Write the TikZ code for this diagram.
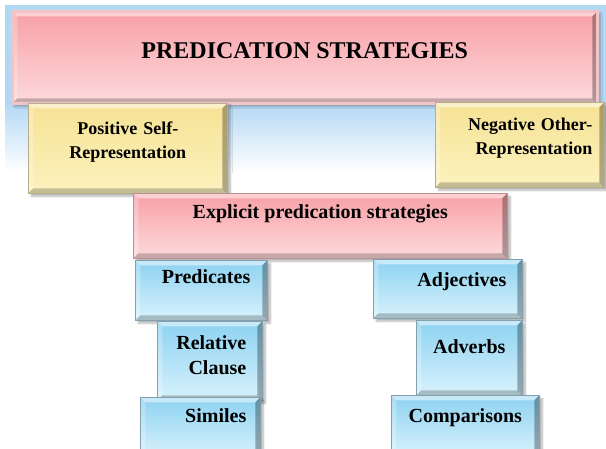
\documentclass[tikz,border=0pt]{standalone}
\usepackage{fontspec}
\setmainfont{Liberation Serif}
\usetikzlibrary{shadows.blur}
\definecolor{sky}{HTML}{B3D8F4}
\definecolor{pkT}{HTML}{F7A0A6}
\definecolor{pkB}{HTML}{FDDADD}
\definecolor{pkrim}{HTML}{F3C3C8}
\definecolor{ylT}{HTML}{F6E294}
\definecolor{ylB}{HTML}{FCF2BE}
\definecolor{blT}{HTML}{8DD2F1}
\definecolor{blB}{HTML}{D8F2FC}
\newlength\bw \setlength\bw{5pt}
\newcommand{\fsz}[2]{\fontsize{#1}{#2}\selectfont\bfseries}
\tikzset{pane/.style={inner sep=0pt,anchor=north west,align=center,line width=.6pt,
  blur shadow={shadow xshift=3pt,shadow yshift=-3pt,shadow blur steps=8,shadow opacity=30},
  path picture={
   \path (path picture bounding box.north west) coordinate (p1) (path picture bounding box.north east) coordinate (p2)
    (path picture bounding box.south east) coordinate (p3) (path picture bounding box.south west) coordinate (p4);
   % bevelled rim: light top/left, dark right/bottom
   \fill[white,opacity=.5] (p1)--(p2)--([shift={(-\bw,-\bw)}]p2)--([shift={(\bw,-\bw)}]p1)--cycle;
   \fill[white,opacity=.25] (p1)--(p4)--([shift={(\bw,\bw)}]p4)--([shift={(\bw,-\bw)}]p1)--cycle;
   \fill[black,opacity=.3] (p2)--(p3)--([shift={(-\bw,\bw)}]p3)--([shift={(-\bw,-\bw)}]p2)--cycle;
   \fill[black,opacity=.22] (p4)--(p3)--([shift={(-\bw,\bw)}]p3)--([shift={(\bw,\bw)}]p4)--cycle;}},
 pk/.style={pane,top color=pkT,bottom color=pkB,draw=pkT!50!gray},
 yl/.style={pane,top color=ylT,bottom color=ylB,draw=ylT!45!gray,font=\fsz{18}{24}},
 bl/.style={pane,top color=blT,bottom color=blB,draw=blT!40!gray,font=\fsz{20}{25}}}

\begin{document}
\begin{tikzpicture}[x=1pt,y=-1pt]
\clip (0,0) rectangle (606,448);
% sky band behind the heading, fading out below it
\fill[sky] (5,5) rectangle (606,103);
\shade[top color=sky,bottom color=white] (5,103) rectangle (606,172);
\node[pk,minimum width=585pt,text height=47pt,text depth=45pt,font=\fsz{24}{28},draw=pkrim,line width=2.5pt] (ttl) at (11,10) {PREDICATION STRATEGIES};
\node[yl,minimum width=199pt,text width=180pt,text height=31pt,text depth=59pt] (pos) at (28,103) {Positive Self-\\Representation};
\node[yl,minimum width=169pt,text width=145pt,align=right,text height=28pt,text depth=57pt] (neg) at (435,102) {Negative Other-\\Representation};
\node[pk,minimum width=374pt,text height=25pt,text depth=40pt,font=\fsz{20}{24}] (expl) at (133,193) {Explicit predication strategies};
% left column
\node[bl,minimum width=132pt,text width=98pt,align=right,text height=23pt,text depth=37pt] (pred) at (135,260) {Predicates};
\node[bl,minimum width=105pt,text width=73pt,align=right,text height=28pt,text depth=51pt] (rel) at (157,321) {Relative\\Clause};
\node[bl,minimum width=120pt,text width=92pt,align=right,text height=25pt,text depth=34pt] (sim) at (140,397) {Similes};
% right column
\node[bl,minimum width=149pt,text width=117pt,align=right,text height=27pt,text depth=32pt] (adj) at (373,259) {Adjectives};
\node[bl,minimum width=106pt,text height=33pt,text depth=42pt] (adv) at (416,320) {Adverbs};
\node[bl,minimum width=148pt,text height=27pt,text depth=34pt] (cmp) at (391,395) {Comparisons};
\end{tikzpicture}
\end{document}
